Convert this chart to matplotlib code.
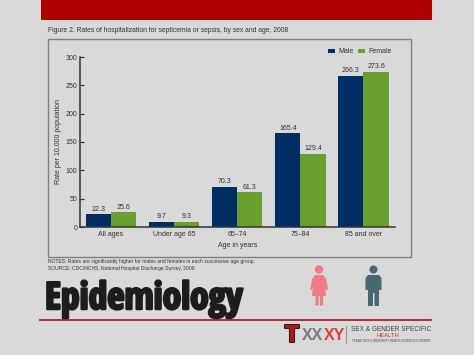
import numpy as np
import matplotlib
matplotlib.use('Agg')
import matplotlib.pyplot as plt
from matplotlib.patches import Rectangle, Circle, Polygon
import matplotlib.patheffects as pe

# values
groups = ['All ages', 'Under age 65', '65\u201374', '75\u201384', '85 and over']
male = [22.3, 9.7, 70.3, 165.4, 266.3]
female = [25.6, 9.3, 61.3, 129.4, 273.6]
yticks = [0, 50, 100, 150, 200, 250, 300]

W, H = 474, 355
bg = '#d9d9d9'
navy = '#002d62'
green = '#6a9e2f'
red = '#b00000'
txt = '#303030'

plt.rcParams['font.family'] = ['Liberation Sans', 'DejaVu Sans']

fig = plt.figure(figsize=(W/100, H/100), dpi=100, facecolor=bg)

# whole slide in pixel coordinates
bk = fig.add_axes([0, 0, 1, 1])
bk.set_xlim(0, W)
bk.set_ylim(H, 0)
bk.axis('off')

bk.add_patch(Rectangle((41, 0), 391, 19.5, fc=red, ec='none'))
bk.add_patch(Rectangle((48.5, 39), 362.5, 218, fc=bg, ec='#808080', lw=1))
bk.plot([40, 431], [320, 320], color='#a8222c', lw=1.3)

bk.text(48, 31, 'Figure 2. Rates of hospitalization for septicemia or sepsis, by sex and age, 2008',
        fontsize=4.85, color=txt, va='center')
bk.text(48, 261.5, 'NOTES: Rates are significantly higher for males and females in each successive age group.',
        fontsize=3.65, color=txt, va='center')
bk.text(48, 268.5, 'SOURCE: CDC/NCHS, National Hospital Discharge Survey, 2008.',
        fontsize=3.65, color=txt, va='center')

title = bk.text(45, 309, 'Epidemiology', fontsize=27, fontweight='bold',
                family=['Open Sans Condensed'], color='#1c1c1c', va='baseline')
title.set_path_effects([pe.withStroke(linewidth=1.8, foreground='#1c1c1c')])

# woman
pink = '#ee7b85'
bk.add_patch(Circle((319, 269.5), 4.2, fc=pink, ec='none'))
bk.add_patch(Polygon([[315, 275], [323, 275], [326, 279], [328, 289], [326, 290], [325, 286],
                      [326, 296], [323, 296], [323, 305.5], [320, 305.5], [320, 296], [318.5, 296],
                      [318.5, 305.5], [315.5, 305.5], [315.5, 296], [312, 296], [313, 286],
                      [312, 290], [310.5, 289], [312, 279]], fc=pink, ec='none'))

# man
slate = '#46686e'
bk.add_patch(Circle((373.5, 269.5), 4, fc=slate, ec='none'))
bk.add_patch(Polygon([[368, 275], [379, 275], [381.5, 278], [381.5, 290], [379, 290], [379, 306],
                      [374.5, 306], [374.5, 293], [373, 293], [373, 306], [368, 306], [368, 290],
                      [365.5, 290], [365.5, 278]], fc=slate, ec='none'))

# logo
bk.text(292, 335, 'T', fontsize=17, fontweight='bold', color='#b01818', ha='center', va='center',
        path_effects=[pe.withStroke(linewidth=1.5, foreground='#222222')])
bk.text(302, 335, 'XX', fontsize=11.5, fontweight='bold', color='#7a7a7a', va='center')
bk.text(323.5, 335, 'XY', fontsize=11.5, fontweight='bold', color='#d8403a', va='center')
bk.plot([346.5, 346.5], [326, 343], color='#999999', lw=0.8)
bk.text(351, 329.5, 'SEX & GENDER SPECIFIC', fontsize=4.7, color='#444444', va='center')
bk.text(377, 335.5, 'HEALTH', fontsize=4.2, color='#c0392b', va='center')
bk.text(352, 341, 'TEXAS TECH UNIVERSITY HEALTH SCIENCES CENTER', fontsize=2.2, color='#444444', va='center')

# chart axes, placed on the pixel positions of the reference
ax = fig.add_axes([79.5/W, 1 - 227/H, (395 - 79.5)/W, 170/H])
ax.patch.set_alpha(0)

x = np.arange(len(groups))
width = 0.4
b1 = ax.bar(x - width/2, male, width, color=navy, label='Male')
b2 = ax.bar(x + width/2, female, width, color=green, label='Female')
ax.bar_label(b1, fmt='%.1f', fontsize=5, color=txt, padding=1.2)
ax.bar_label(b2, fmt='%.1f', fontsize=5, color=txt, padding=1.2)

ax.set_xlim(-0.5, 4.5)
ax.set_ylim(0, 300)
ax.set_xticks(x)
ax.set_xticklabels(groups)
ax.set_yticks(yticks)
ax.tick_params(axis='x', length=0, labelsize=5, labelcolor=txt, pad=3)
ax.tick_params(axis='y', length=3, width=0.9, direction='in', labelsize=5, labelcolor=txt, pad=1.5, color='#333333')
for s in ['top', 'right']:
    ax.spines[s].set_visible(False)
for s in ['left', 'bottom']:
    ax.spines[s].set_color('#333333')
    ax.spines[s].set_linewidth(1.1)

ax.set_xlabel('Age in years', fontsize=5, color=txt, labelpad=3)
ax.set_ylabel('Rate per 10,000 population', fontsize=5, color=txt)
ax.yaxis.set_label_coords((61.5 - 79.5)/315.5, 0.5)

ax.legend(ncol=2, frameon=False, fontsize=5, labelcolor=txt, loc='center right',
          bbox_to_anchor=(0.9905, 1.03), handlelength=1.05, handleheight=0.6,
          columnspacing=0.6, handletextpad=0.45, borderaxespad=0, borderpad=0)

fig.savefig('out.png', dpi=100, facecolor=bg)
